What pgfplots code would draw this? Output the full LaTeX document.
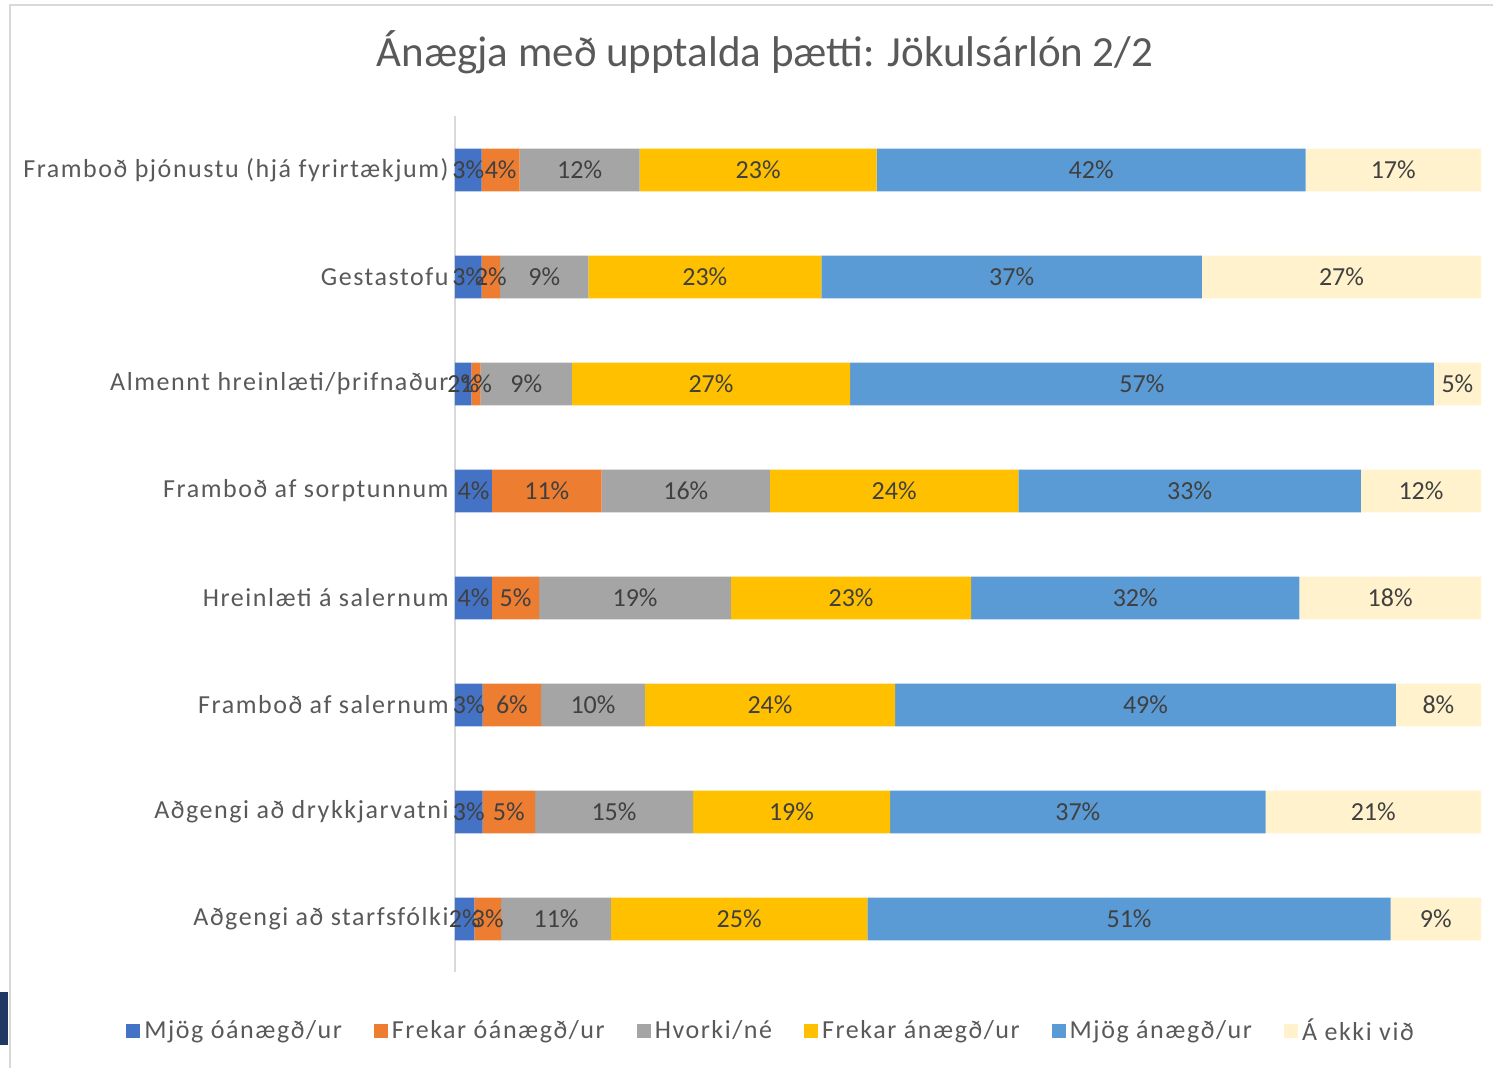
\documentclass[border=0pt]{standalone}
\usepackage{pgfplots}
\usepackage{pgfplotstable}
\pgfplotsset{compat=1.18}
\usepackage{fontspec}
\setmainfont{Carlito}
\newfontfamily\spaced[LetterSpace=6]{Carlito}
\definecolor{c1}{HTML}{4472C4}
\definecolor{c2}{HTML}{ED7D31}
\definecolor{c3}{HTML}{A5A5A5}
\definecolor{c4}{HTML}{FFC000}
\definecolor{c5}{HTML}{5B9BD5}
\definecolor{c6}{HTML}{FFF2CC}
\definecolor{lbl}{HTML}{404040}
\definecolor{ttl}{HTML}{595959}
\definecolor{frm}{HTML}{D9D9D9}
\definecolor{navy}{HTML}{1F3864}

\pgfplotstableread{
y b1 b2 b3 b4 b5 b6
7 2.6 3.7 11.7 23.1 41.8 17.1
6 2.6 1.8 8.6 22.7 37.1 27.2
5 1.6 0.9 8.9 27.1 56.9 4.6
4 3.6 10.7 16.4 24.2 33.4 11.7
3 3.6 4.6 18.7 23.4 32.0 17.7
2 2.7 5.7 10.1 24.4 48.8 8.3
1 2.7 5.1 15.4 19.2 36.6 21.0
0 1.9 2.6 10.7 25.0 51.0 8.8
}\data
\pgfplotstablecreatecol[expr={\thisrow{b1}/2}]{m1}{\data}
\pgfplotstablecreatecol[expr={\thisrow{b1}+\thisrow{b2}/2}]{m2}{\data}
\pgfplotstablecreatecol[expr={\thisrow{b1}+\thisrow{b2}+\thisrow{b3}/2}]{m3}{\data}
\pgfplotstablecreatecol[expr={\thisrow{b1}+\thisrow{b2}+\thisrow{b3}+\thisrow{b4}/2}]{m4}{\data}
\pgfplotstablecreatecol[expr={\thisrow{b1}+\thisrow{b2}+\thisrow{b3}+\thisrow{b4}+\thisrow{b5}/2}]{m5}{\data}
\pgfplotstablecreatecol[expr={\thisrow{b1}+\thisrow{b2}+\thisrow{b3}+\thisrow{b4}+\thisrow{b5}+\thisrow{b6}/2}]{m6}{\data}

\pgfplotsset{
  common/.style={at={(0pt,0pt)}, anchor=south west, scale only axis,
    width=513pt, height=428pt, xmin=0, xmax=100, ymin=-0.5, ymax=7.5},
  lab/.style={draw=none, mark=none, point meta=explicit,
    nodes near coords={\pgfmathprintnumber[fixed,precision=0]{\pgfplotspointmeta}\%},
    every node near coord/.append style={anchor=center, text=lbl,
      font=\fontsize{13}{15}\selectfont}},
}

\begin{document}
\begin{tikzpicture}
\path[use as bounding box] (-227.5pt,-47.75pt) rectangle (519pt,486.25pt);
\draw[frm, line width=1pt] (-222.5pt,-47.75pt) -- (-222.5pt,483.75pt) -- (519pt,483.75pt);
\fill[navy] (-227.5pt,-36.25pt) rectangle (-223.5pt,-9.75pt);
\node[font=\fontsize{21.5}{25}\selectfont, text=ttl] at (155pt,460.25pt) {Ánægja með upptalda þætti: Jökulsárlón 2/2};

\begin{axis}[common,
  xbar stacked, bar width=0.4,
  axis x line=none, axis y line*=left,
  y axis line style={draw=frm, line width=1pt},
  ytick={0,...,7},
  yticklabels={Aðgengi að starfsfólki, Aðgengi að drykkjarvatni, Framboð af salernum, Hreinlæti á salernum, Framboð af sorptunnum, Almennt hreinlæti/þrifnaður, Gestastofu, Framboð þjónustu (hjá fyrirtækjum)},
  ytick style={draw=none},
  yticklabel style={font=\spaced\fontsize{13}{15}\selectfont, text=ttl, inner sep=1pt, xshift=-2pt},
  legend style={at={(0.309,-0.0683)}, anchor=center, draw=none, fill=none,
    legend columns=6, font=\spaced\fontsize{13}{15}\selectfont, text=ttl,
    /tikz/every even column/.append style={column sep=14pt}},
  legend image code/.code={\fill[#1] (0pt,-3.5pt) rectangle (7pt,3.5pt);},
]
\addplot[fill=c1, draw=none] table[x=b1, y=y] {\data};
\addplot[fill=c2, draw=none] table[x=b2, y=y] {\data};
\addplot[fill=c3, draw=none] table[x=b3, y=y] {\data};
\addplot[fill=c4, draw=none] table[x=b4, y=y] {\data};
\addplot[fill=c5, draw=none] table[x=b5, y=y] {\data};
\addplot[fill=c6, draw=none] table[x=b6, y=y] {\data};
\legend{Mjög óánægð/ur, Frekar óánægð/ur, Hvorki/né, Frekar ánægð/ur, Mjög ánægð/ur, Á ekki við}
\end{axis}

\begin{axis}[common, hide axis, /pgf/number format/assume math mode=true]
\addplot[lab] table[x=m1, y=y, meta=b1] {\data};
\addplot[lab] table[x=m2, y=y, meta=b2] {\data};
\addplot[lab] table[x=m3, y=y, meta=b3] {\data};
\addplot[lab] table[x=m4, y=y, meta=b4] {\data};
\addplot[lab] table[x=m5, y=y, meta=b5] {\data};
\addplot[lab] table[x=m6, y=y, meta=b6] {\data};
\end{axis}
\end{tikzpicture}
\end{document}
